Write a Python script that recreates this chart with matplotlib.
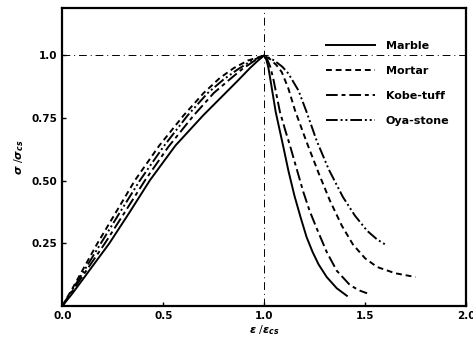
import matplotlib
matplotlib.use('Agg')
from matplotlib import pyplot as plt

# curves (strain ratio, stress ratio)
marble_x = [0, 0.05, 0.232, 0.33, 0.434, 0.56, 0.698, 0.797, 0.87, 0.93, 0.97, 1.0,
            1.01, 1.02, 1.03, 1.057, 1.095, 1.12, 1.15, 1.18, 1.21, 1.24, 1.27, 1.31, 1.36, 1.41]
marble_y = [0, 0.05, 0.249, 0.37, 0.502, 0.64, 0.761, 0.841, 0.9, 0.95, 0.98, 1.0,
            0.985, 0.955, 0.908, 0.775, 0.635, 0.54, 0.44, 0.355, 0.275, 0.215, 0.165, 0.115, 0.07, 0.04]

mortar_x = [0, 0.05, 0.173, 0.27, 0.36, 0.48, 0.6, 0.7, 0.78, 0.85, 0.92, 1.0,
            1.03, 1.06, 1.087, 1.12, 1.153, 1.21, 1.27, 1.326, 1.385, 1.44, 1.5, 1.56, 1.65, 1.75]
mortar_y = [0, 0.07, 0.249, 0.38, 0.502, 0.64, 0.76, 0.85, 0.91, 0.95, 0.98, 1.0,
            0.985, 0.962, 0.934, 0.868, 0.78, 0.655, 0.53, 0.42, 0.32, 0.245, 0.19, 0.155, 0.13, 0.115]

kobe_x = [0, 0.05, 0.21, 0.31, 0.41, 0.525, 0.65, 0.75, 0.83, 0.89, 0.95, 1.0,
          1.015, 1.03, 1.045, 1.078, 1.105, 1.128, 1.16, 1.194, 1.225, 1.26, 1.31, 1.36, 1.425, 1.47, 1.51]
kobe_y = [0, 0.06, 0.249, 0.375, 0.502, 0.635, 0.76, 0.85, 0.905, 0.945, 0.978, 1.0,
          0.985, 0.955, 0.908, 0.775, 0.70, 0.64, 0.55, 0.455, 0.38, 0.31, 0.215, 0.14, 0.083, 0.062, 0.05]

oya_x = [0, 0.05, 0.19, 0.29, 0.385, 0.5, 0.62, 0.72, 0.8, 0.87, 0.935, 1.0,
         1.05, 1.09, 1.12, 1.17, 1.21, 1.26, 1.32, 1.39, 1.45, 1.51, 1.56, 1.61]
oya_y = [0, 0.065, 0.249, 0.38, 0.502, 0.635, 0.76, 0.85, 0.905, 0.945, 0.978, 1.0,
         0.98, 0.955, 0.928, 0.86, 0.775, 0.66, 0.545, 0.435, 0.36, 0.30, 0.265, 0.24]

names = ['Marble', 'Mortar', 'Kobe-tuff', 'Oya-stone']
xticks = [0.0, 0.5, 1.0, 1.5, 2.0]
yticks = [0.25, 0.50, 0.75, 1.0]
ytick_labels = ['0.25', '0.50', '0.75', '1.0']

plt.rcParams['font.family'] = 'DejaVu Sans'
plt.rcParams['font.weight'] = 'bold'

fig = plt.figure(figsize=(4.73, 3.44), dpi=100)
ax = fig.add_axes([0.132, 0.111, 0.853, 0.866])

# reference lines at the peak
ax.axhline(1.0, color='k', lw=0.7, ls=(0, (8, 4, 1, 4)))
ax.axvline(1.0, color='k', lw=0.7, ls=(0, (8, 4, 1, 4)))

ax.plot(marble_x, marble_y, color='k', lw=1.4, ls='-', label=names[0])
ax.plot(mortar_x, mortar_y, color='k', lw=1.4, ls=(0, (3, 2)), label=names[1])
ax.plot(kobe_x, kobe_y, color='k', lw=1.4, ls=(0, (6, 2, 2, 2)), label=names[2])
ax.plot(oya_x, oya_y, color='k', lw=1.4, ls=(0, (6, 1.5, 1, 1.5, 1, 1.5)), label=names[3])

ax.set_xlim(0, 2.0)
ax.set_ylim(0, 1.19)
ax.set_xticks(xticks)
ax.set_xticklabels(['0.0', '0.5', '1.0', '1.5', '2.0'], fontsize=7.5, fontweight='bold')
ax.set_yticks(yticks)
ax.set_yticklabels(ytick_labels, fontsize=7.5, fontweight='bold')
ax.tick_params(direction='in', length=3, width=1)
for s in ax.spines.values():
    s.set_linewidth(1.6)

ax.set_xlabel(r'$\epsilon$ /$\epsilon_{cs}$', fontsize=8, labelpad=2)
ax.set_ylabel(r'$\sigma$ /$\sigma_{cs}$', fontsize=8, labelpad=4)

leg = ax.legend(loc='upper left', bbox_to_anchor=(0.653, 0.89), frameon=False,
                borderaxespad=0, borderpad=0, fontsize=8, handlelength=4.4,
                labelspacing=1.35, handletextpad=1.0)
for t in leg.get_texts():
    t.set_fontweight('bold')

plt.savefig('out.png', dpi=100)
